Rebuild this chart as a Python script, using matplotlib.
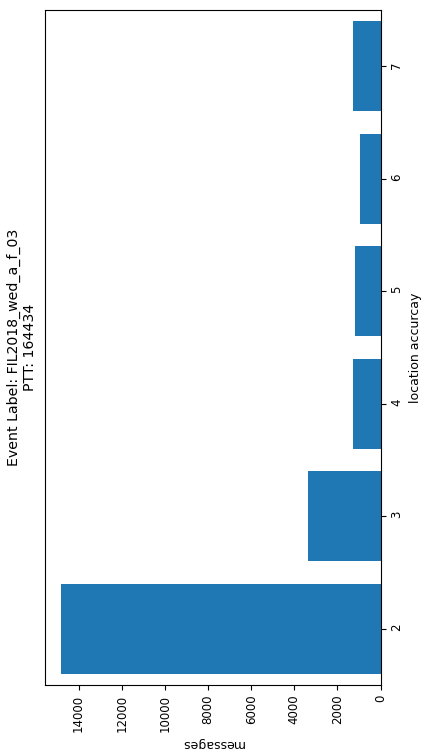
import matplotlib
matplotlib.use("Agg")
import matplotlib.pyplot as plt

# messages per location accuracy class
accuracy = [2, 3, 4, 5, 6, 7]
messages = [14830, 3352, 1268, 1190, 944, 1268]

event_label = "FIL2018_wed_a_f_03"
ptt = "164434"

fig = plt.figure(figsize=(4.21, 7.51), dpi=100)
ax = fig.add_axes([0.106, 0.088, 0.798, 0.899])

ax.barh(accuracy, messages, height=0.8, color="#1f77b4")
ax.set_ylim(1.5, 7.5)
ax.invert_xaxis()

ax.yaxis.tick_right()
ax.yaxis.set_label_position("right")
ax.set_yticks(accuracy)
ax.tick_params(axis="both", labelsize=8.5, labelrotation=90)

ax.set_ylabel("location accurcay", fontsize=9, rotation=90)
ax.set_xlabel("messages", fontsize=9, rotation=180)

fig.text(0.052, 0.5375, "Event Label: " + event_label + "\nPTT: " + ptt,
         rotation=90, ha="center", va="center", fontsize=10.2,
         multialignment="center")

fig.savefig("out.png", dpi=100)
